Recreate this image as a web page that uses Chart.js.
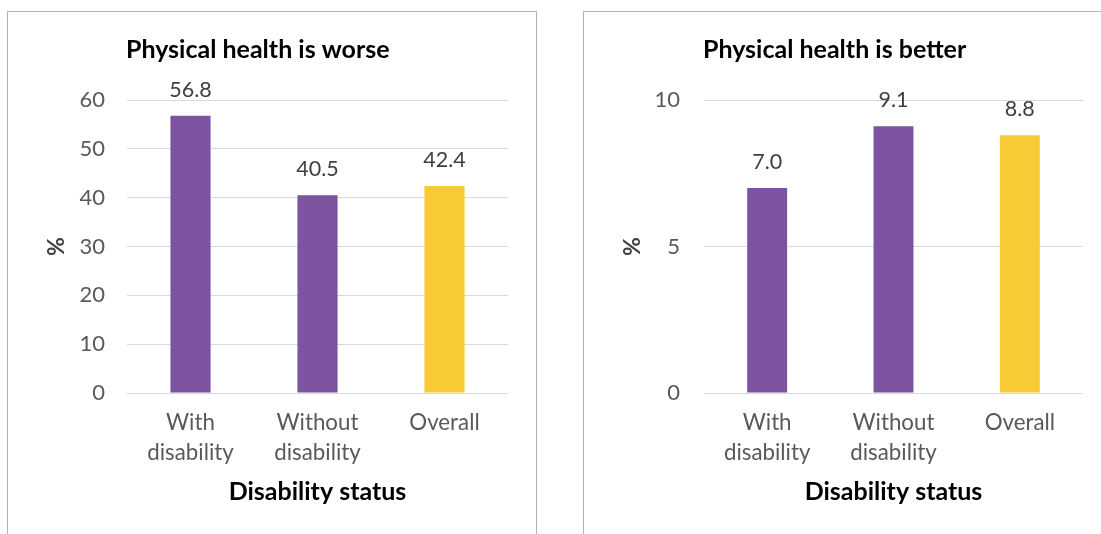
<!DOCTYPE html>
<html>
<head>
<meta charset="utf-8">
<script src="https://cdn.jsdelivr.net/npm/chart.js@4.4.1/dist/chart.umd.min.js"></script>
<style>
  html, body { margin: 0; padding: 0; background: #fff; width: 1101px; height: 534px; overflow: hidden; }
  .panel { position: absolute; top: 11px; border: 1px solid #b4b4b4; border-bottom: none; background: #fff; }
  #p1 { left: 7px; width: 528px; height: 530px; }
  #p2 { left: 583px; width: 530px; height: 530px; }
  canvas { display: block; }
</style>
</head>
<body>
<div class="panel" id="p1"><canvas id="c1" width="528" height="522"></canvas></div>
<div class="panel" id="p2"><canvas id="c2" width="517" height="522"></canvas></div>
<script>
// Share of respondents (%) by disability status
const categories = [["With", "disability"], ["Without", "disability"], "Overall"];
const worseValues = [56.8, 40.5, 42.4];
const betterValues = [7.0, 9.1, 8.8];
const barColors = ["#7b53a1", "#7b53a1", "#f8ca36"];

const FONT = "Lato, 'Open Sans', sans-serif";

// Chart heading drawn flush with the left edge of the plot area
const headingPlugin = {
  id: "heading",
  afterDraw(chart, args, opts) {
    const { ctx, chartArea } = chart;
    ctx.save();
    ctx.font = "bold 25px " + FONT;
    ctx.fillStyle = "#000";
    ctx.textAlign = "left";
    ctx.textBaseline = "middle";
    ctx.fillText(opts.text, chartArea.left - 1, chartArea.top - 50);
    ctx.restore();
  }
};

// Value labels above each bar
const valueLabelPlugin = {
  id: "valueLabels",
  afterDatasetsDraw(chart) {
    const { ctx } = chart;
    const meta = chart.getDatasetMeta(0);
    const data = chart.data.datasets[0].data;
    ctx.save();
    ctx.font = "21.5px " + FONT;
    ctx.fillStyle = "#404040";
    ctx.textAlign = "center";
    ctx.textBaseline = "middle";
    meta.data.forEach((bar, i) => {
      ctx.fillText(data[i].toFixed(1), bar.x, bar.y - 26);
    });
    ctx.restore();
  }
};

function makeChart(id, title, values, maxY, step, padRight, yWidth, tickPad) {
  return new Chart(document.getElementById(id), {
    type: "bar",
    data: {
      labels: categories,
      datasets: [{
        data: values,
        backgroundColor: barColors,
        borderWidth: 0,
        barPercentage: 0.316,
        categoryPercentage: 1
      }]
    },
    options: {
      responsive: false,
      animation: false,
      layout: { padding: { top: 88, right: padRight, left: 0, bottom: 0 } },
      plugins: {
        legend: { display: false },
        tooltip: { enabled: false },
        title: { display: false },
        heading: { text: title }
      },
      scales: {
        x: {
          grid: { display: false, drawTicks: false },
          border: { display: false },
          ticks: {
            color: "#595959",
            font: { family: FONT, size: 22.3, lineHeight: 1.35 },
            padding: 15,
            maxRotation: 0,
            autoSkip: false
          },
          title: {
            display: true,
            text: "Disability status",
            color: "#000",
            font: { family: FONT, size: 25, weight: "bold", lineHeight: 1.2 },
            padding: { top: 0, bottom: 27 }
          },
          afterFit(scale) { scale.height = 141; }
        },
        y: {
          min: 0,
          max: maxY,
          grid: { color: "#d9d9d9", lineWidth: 1, drawTicks: false },
          border: { display: false },
          ticks: {
            stepSize: step,
            color: "#595959",
            font: { family: FONT, size: 22 },
            padding: tickPad
          },
          title: {
            display: true,
            text: "%",
            color: "#404040",
            font: { family: FONT, size: 23, weight: "bold", lineHeight: 1.2 },
            padding: { top: 35, bottom: 0 }
          },
          afterFit(scale) { scale.width = yWidth; }
        }
      }
    },
    plugins: [headingPlugin, valueLabelPlugin]
  });
}

makeChart("c1", "Physical health is worse", worseValues, 60, 10, 28, 119, 22);
makeChart("c2", "Physical health is better", betterValues, 10, 5, 18, 120, 24);
</script>
</body>
</html>
